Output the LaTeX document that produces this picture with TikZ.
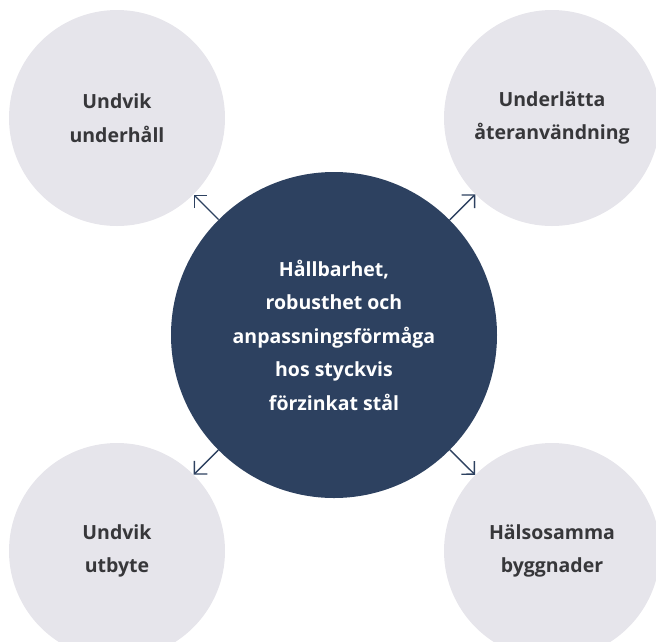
\documentclass[tikz,border=0pt]{standalone}
\usepackage{fontspec}
\setmainfont{Open Sans}
\usetikzlibrary{arrows.meta}
\definecolor{navy}{HTML}{2D4160}
\definecolor{lightc}{HTML}{E6E5EB}
\definecolor{txt}{HTML}{37373A}
\begin{document}
\begin{tikzpicture}[x=1pt,y=-1pt,
 outer/.style={circle, fill=lightc, minimum size=216pt, inner sep=0pt, align=center, text=txt, font=\bfseries\fontsize{19.5}{33.5}\selectfont},
 hub/.style={circle, fill=navy, minimum size=326pt, inner sep=0pt, align=center, text=white, font=\bfseries\fontsize{19.5}{33.5}\selectfont},
 arr/.style={draw=navy, line width=1.4pt, -{Straight Barb[angle=90:13pt]}}]
\useasboundingbox (0,0) rectangle (656,641);
\node[outer] (tl) at (117,118) {Undvik\\underhåll};
\node[outer] (tr) at (552,118) {Underlätta\\återanvändning};
\node[outer] (bl) at (117,551) {Undvik\\utbyte};
\node[outer] (br) at (552,551) {Hälsosamma\\byggnader};
\node[hub] (c) at (334,335) {Hållbarhet,\\robusthet och\\anpassningsförmåga\\hos styckvis\\förzinkat stål};
\draw[arr] (c) -- (tl);
\draw[arr] (c) -- (tr);
\draw[arr] (c) -- (bl);
\draw[arr] (c) -- (br);
\end{tikzpicture}
\end{document}
